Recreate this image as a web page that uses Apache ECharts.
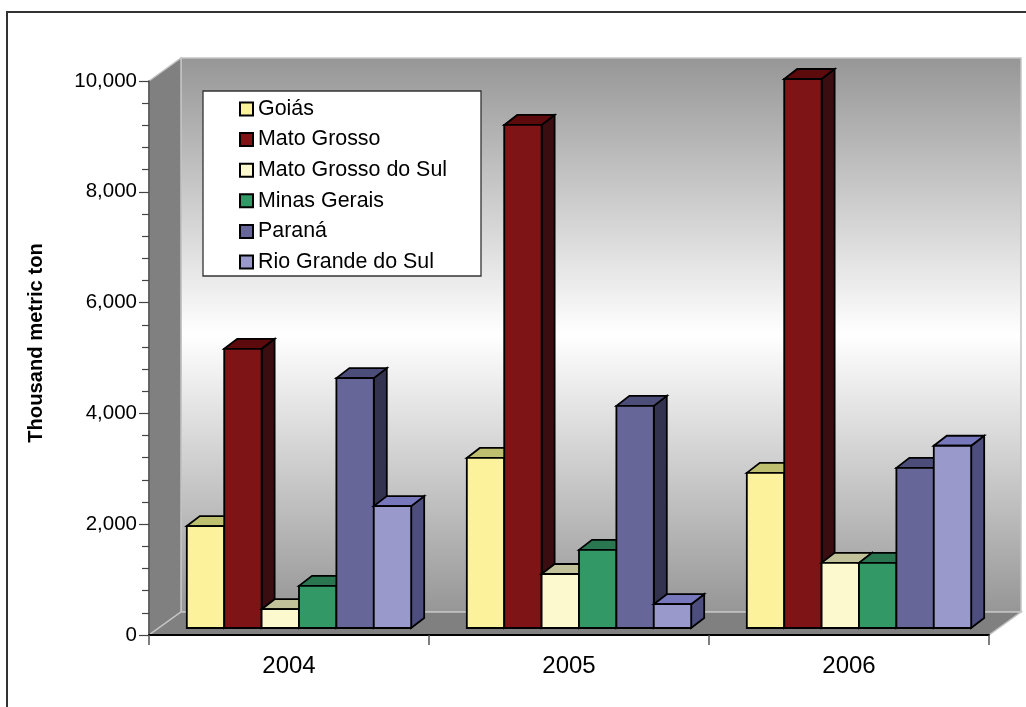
<!DOCTYPE html>
<html>
<head>
<meta charset="utf-8">
<style>html,body{margin:0;padding:0;background:#fff;overflow:hidden}#chart{width:1026px;height:707px}</style>
<script src="https://cdn.jsdelivr.net/npm/echarts@6/dist/echarts.min.js"></script>
</head>
<body>
<div id="chart"></div>
<script>
// Soybean output by state and year, thousand metric tons
const years = ['2004', '2005', '2006'];
const goias = [1840, 3070, 2800];
const matoGrosso = [5040, 9080, 9910];
const matoGrossoDoSul = [340, 975, 1175];
const minasGerais = [760, 1410, 1175];
const parana = [4510, 4010, 2890];
const rioGrandeDoSul = [2200, 430, 3290];

const states = [
  { name: 'Goiás', values: goias, front: '#FCF29B', top: '#BFBF70', side: '#8F8A55' },
  { name: 'Mato Grosso', values: matoGrosso, front: '#7E1416', top: '#5C0A0C', side: '#3A0E10' },
  { name: 'Mato Grosso do Sul', values: matoGrossoDoSul, front: '#FDF9CF', top: '#C2C29A', side: '#99987A' },
  { name: 'Minas Gerais', values: minasGerais, front: '#329966', top: '#2A7650', side: '#1F5A3D' },
  { name: 'Paraná', values: parana, front: '#666699', top: '#4D4D7A', side: '#33334F' },
  { name: 'Rio Grande do Sul', values: rioGrandeDoSul, front: '#9999CC', top: '#7777BB', side: '#4D4D80' }
];

// Oblique projection: how far the back wall and each bar recede on screen
const WALL_DX = 32, WALL_DY = 23;
const BAR_INSET_DX = 10, BAR_INSET_DY = 7;
const BAR_DX = 13, BAR_DY = 10;
const GAP_RATIO = 0.248;

function polygon(points, fill, stroke, lineWidth) {
  return { type: 'polygon', shape: { points }, style: { fill, stroke, lineWidth, lineJoin: 'miter' } };
}

// Walls and floor of the chart box, anchored on the axis scales
function renderRoom(params, api) {
  const band = api.size([1, 0])[0];
  const left = api.coord([0, 0])[0] - band / 2;
  const right = left + band * years.length;
  const base = api.coord([0, 0])[1];
  const top = api.coord([0, 10000])[1];
  const edge = '#C4C4C4';
  const wallFill = new echarts.graphic.LinearGradient(0, 0, 0, 1, [
    { offset: 0, color: '#969696' },
    { offset: 0.5, color: '#FFFFFF' },
    { offset: 1, color: '#969696' }
  ]);
  return {
    type: 'group',
    children: [
      polygon([[left + WALL_DX, top - WALL_DY], [right + WALL_DX, top - WALL_DY], [right + WALL_DX, base - WALL_DY], [left + WALL_DX, base - WALL_DY]], wallFill, edge, 1.5),
      polygon([[left, top], [left + WALL_DX, top - WALL_DY], [left + WALL_DX, base - WALL_DY], [left, base]], '#808080', edge, 1.5),
      polygon([[left, base], [left + WALL_DX, base - WALL_DY], [right + WALL_DX, base - WALL_DY], [right, base]], '#808080', edge, 1.5)
    ]
  };
}

// One state's prism for one year: side and top faces, then the front face
function renderPrism(stateIndex, state) {
  return function (params, api) {
    const category = api.value(0);
    const value = api.value(1);
    const band = api.size([1, 0])[0];
    const barW = band / (states.length + states.length * GAP_RATIO);
    const groupW = barW * states.length;
    const center = api.coord([category, 0]);
    const x0 = center[0] - groupW / 2 + stateIndex * barW + BAR_INSET_DX;
    const x1 = x0 + barW;
    const y0 = center[1] - BAR_INSET_DY;
    const y1 = api.coord([category, value])[1] - BAR_INSET_DY;
    const line = '#000000';
    return {
      type: 'group',
      children: [
        polygon([[x1, y1], [x1 + BAR_DX, y1 - BAR_DY], [x1 + BAR_DX, y0 - BAR_DY], [x1, y0]], state.side, line, 1.8),
        polygon([[x0, y1], [x0 + BAR_DX, y1 - BAR_DY], [x1 + BAR_DX, y1 - BAR_DY], [x1, y1]], state.top, line, 1.8),
        polygon([[x0, y1], [x1, y1], [x1, y0], [x0, y0]], state.front, line, 1.8)
      ]
    };
  };
}

const chart = echarts.init(document.getElementById('chart'), null, { renderer: 'canvas' });

const prismSeries = states.map((state, i) => ({
  type: 'custom',
  name: state.name,
  z: 3,
  coordinateSystem: 'cartesian2d',
  renderItem: renderPrism(i, state),
  itemStyle: { color: state.front, borderColor: '#000', borderWidth: 1.8 },
  encode: { x: 0, y: 1 },
  data: state.values.map((v, j) => [j, v])
}));

chart.setOption({
  animation: false,
  backgroundColor: '#FFFFFF',
  textStyle: { fontFamily: '"Liberation Sans", Arial, sans-serif', color: '#000' },
  grid: { left: 149, top: 81, width: 840, height: 554, containLabel: false },
  graphic: [{
    type: 'rect', z: 0, silent: true,
    shape: { x: 7, y: 12, width: 1040, height: 720 },
    style: { fill: 'none', stroke: '#333333', lineWidth: 2 }
  }],
  legend: {
    left: 203, top: 91,
    orient: 'vertical',
    data: states.map(s => s.name),
    icon: 'rect',
    itemWidth: 13, itemHeight: 13,
    itemGap: 7.6,
    padding: [6.5, 0, 2.5, 36],
    backgroundColor: '#FFFFFF',
    borderColor: '#333333', borderWidth: 1.3,
    selectedMode: false,
    textStyle: { fontSize: 21.4, color: '#000', width: 223, lineHeight: 23 }
  },
  xAxis: {
    type: 'category',
    data: years,
    z: 5,
    axisLine: { show: true, lineStyle: { color: '#000', width: 1.8 } },
    axisTick: { show: true, alignWithLabel: false, length: 10, lineStyle: { color: '#555', width: 1.5 } },
    axisLabel: { fontSize: 24, color: '#000', margin: 19 },
    splitLine: { show: false }
  },
  yAxis: {
    type: 'value',
    min: 0, max: 10000, interval: 2000,
    z: 5,
    name: 'Thousand metric ton',
    nameLocation: 'middle',
    nameGap: 103,
    nameTextStyle: { fontSize: 20.2, fontWeight: 'bold', color: '#000', padding: [0, 0, 0, 30] },
    axisLine: { show: true, lineStyle: { color: '#444', width: 1.5 } },
    axisTick: { show: true, length: 10, lineStyle: { color: '#444', width: 1.2 } },
    minorTick: { show: true, splitNumber: 5, length: 7, lineStyle: { color: '#444', width: 1.2 } },
    axisLabel: { fontSize: 20.5, color: '#000', margin: 12, formatter: v => v.toLocaleString('en-US') },
    splitLine: { show: false }
  },
  series: [{
    type: 'custom',
    name: 'room',
    z: 1,
    silent: true,
    coordinateSystem: 'cartesian2d',
    renderItem: renderRoom,
    encode: { x: 0, y: 1 },
    data: [[0, 0]]
  }].concat(prismSeries)
});
</script>
</body>
</html>
